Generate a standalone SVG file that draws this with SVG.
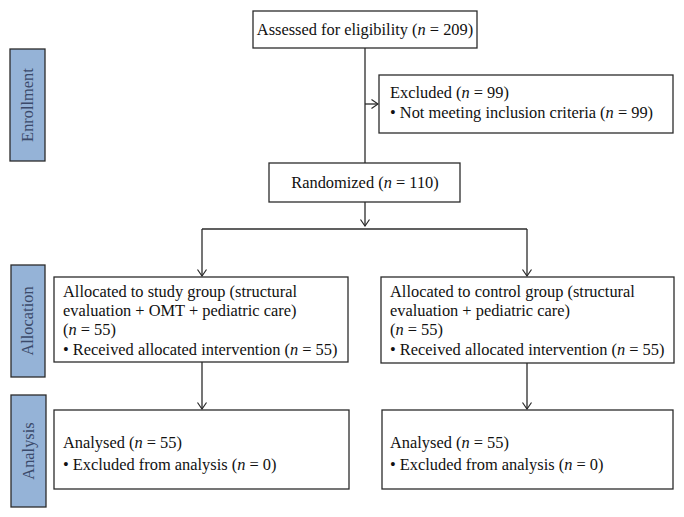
<svg xmlns="http://www.w3.org/2000/svg" width="684" height="517" viewBox="0 0 684 517">
<style>
  .box { fill: #ffffff; stroke: #2b2b2b; stroke-width: 1.3; }
  .side { fill: #95b3d7; stroke: #2b2b2b; stroke-width: 1.3; }
  .t { font-family: "Liberation Serif", "Times New Roman", serif; font-size: 16.4px; fill: #111111; }
  .st { font-family: "Liberation Serif", "Times New Roman", serif; font-size: 16.4px; fill: #3b4a6a; }
  .c { fill: none; stroke: #2b2b2b; stroke-width: 1.3; }
  .i { font-style: italic; }
</style>
<defs>
  <marker id="arr" viewBox="0 0 10 10" refX="9.5" refY="5" markerWidth="10" markerHeight="10" markerUnits="userSpaceOnUse" orient="auto">
    <path d="M3,0.5 L9.5,5 L3,9.5" fill="none" stroke="#2b2b2b" stroke-width="1.2"/>
  </marker>
</defs>

<g id="side-enrollment">
  <rect class="side" x="10" y="49" width="35" height="112"/>
  <text class="st" transform="translate(33,105) rotate(-90)" text-anchor="middle">Enrollment</text>
</g>
<g id="side-allocation">
  <rect class="side" x="11" y="265" width="34" height="112"/>
  <text class="st" transform="translate(33,321) rotate(-90)" text-anchor="middle">Allocation</text>
</g>
<g id="side-analysis">
  <rect class="side" x="11" y="395" width="35" height="112"/>
  <text class="st" transform="translate(33.5,451) rotate(-90)" text-anchor="middle">Analysis</text>
</g>

<g id="connectors">
  <line class="c" x1="365" y1="48" x2="365" y2="163"/>
  <line class="c" x1="365" y1="104" x2="378" y2="104" marker-end="url(#arr)"/>
  <line class="c" x1="365" y1="202" x2="365" y2="226" marker-end="url(#arr)"/>
  <line class="c" x1="202" y1="229" x2="527" y2="229"/>
  <line class="c" x1="202" y1="229" x2="202" y2="276" marker-end="url(#arr)"/>
  <line class="c" x1="527" y1="229" x2="527" y2="276" marker-end="url(#arr)"/>
  <line class="c" x1="202" y1="362" x2="202" y2="409" marker-end="url(#arr)"/>
  <line class="c" x1="527" y1="363" x2="527" y2="409" marker-end="url(#arr)"/>
</g>

<g id="assessed">
  <rect class="box" x="253" y="11" width="224" height="37"/>
  <text class="t" x="365" y="35" text-anchor="middle">Assessed for eligibility (<tspan class="i">n</tspan> = 209)</text>
</g>
<g id="excluded">
  <rect class="box" x="379" y="75" width="294" height="58"/>
  <text class="t" x="390" y="98">Excluded (<tspan class="i">n</tspan> = 99)</text>
  <text class="t" x="390" y="118">• Not meeting inclusion criteria (<tspan class="i">n</tspan> = 99)</text>
</g>
<g id="randomized">
  <rect class="box" x="269" y="163" width="191" height="39"/>
  <text class="t" x="365" y="188" text-anchor="middle">Randomized (<tspan class="i">n</tspan> = 110)</text>
</g>
<g id="alloc-study">
  <rect class="box" x="54" y="277" width="294" height="85"/>
  <text class="t" x="63" y="297">Allocated to study group (structural</text>
  <text class="t" x="63" y="316">evaluation + OMT + pediatric care)</text>
  <text class="t" x="63" y="335">(<tspan class="i">n</tspan> = 55)</text>
  <text class="t" x="63" y="355">• Received allocated intervention (<tspan class="i">n</tspan> = 55)</text>
</g>
<g id="alloc-control">
  <rect class="box" x="381" y="277" width="293" height="86"/>
  <text class="t" x="390" y="297">Allocated to control group (structural</text>
  <text class="t" x="390" y="316">evaluation + pediatric care)</text>
  <text class="t" x="390" y="335">(<tspan class="i">n</tspan> = 55)</text>
  <text class="t" x="390" y="355">• Received allocated intervention (<tspan class="i">n</tspan> = 55)</text>
</g>
<g id="analysis-study">
  <rect class="box" x="54" y="410" width="295" height="79"/>
  <text class="t" x="63" y="448">Analysed (<tspan class="i">n</tspan> = 55)</text>
  <text class="t" x="63" y="470">• Excluded from analysis (<tspan class="i">n</tspan> = 0)</text>
</g>
<g id="analysis-control">
  <rect class="box" x="382" y="410" width="291" height="79"/>
  <text class="t" x="390" y="448">Analysed (<tspan class="i">n</tspan> = 55)</text>
  <text class="t" x="390" y="470">• Excluded from analysis (<tspan class="i">n</tspan> = 0)</text>
</g>
</svg>
